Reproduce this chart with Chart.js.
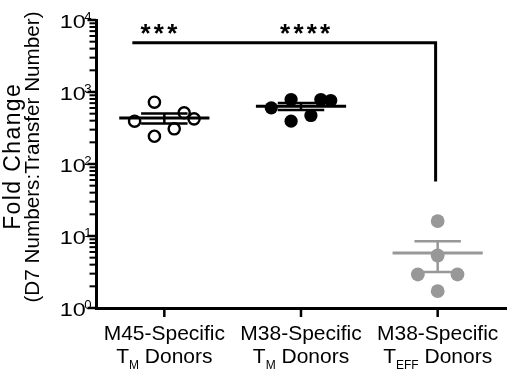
<!DOCTYPE html>
<html><head><meta charset="utf-8">
<script src="https://cdn.jsdelivr.net/npm/chart.js@4.4.0/dist/chart.umd.min.js"></script>
<style>html,body{margin:0;padding:0;background:#fff;}</style>
</head><body>
<canvas id="c" width="514" height="377" style="width:514px;height:377px;display:block"></canvas>
<script>
// ---- data ----
const categoryLine1 = ["M45-Specific", "M38-Specific", "M38-Specific"];
const categoryLine2Main = ["T", "T", "T"];
const categorySubscript = ["M", "M", "EFF"];
const categoryLine2Rest = [" Donors", " Donors", " Donors"];
const m45TmValues = [393, 722, 243, 308, 514, 424];
const m45TmJitter = [-3, -1, -1, 1, 2, 3];
const m38TmValues = [603, 787, 393, 472, 787, 762];
const m38TmJitter = [-3, -1, -1, 1, 2, 3];
const m38TeffValues = [16.1, 5.36, 2.92, 2.92, 1.71];
const m38TeffJitter = [0, 0, -2, 2, 0];
const yTickExponents = [0, 1, 2, 3, 4];
const yTitle = ["Fold Change", "(D7 Numbers:Transfer Number)"];
const sigLabels = ["***", "****"];
const sigLabelX = [-0.04, 1.03];
const sigLabelY = 8100;
const bracketX = [-0.234, 1.985, 1.985];
const bracketY = [4820, 4820, 57];

// ---- styles ----
const FONT = "'Liberation Sans', Arial, sans-serif";
const GRAY = "rgb(152,152,152)";
const JSTEP = 0.0725;

function stats(a) {
  const n = a.length, m = a.reduce((s, v) => s + v, 0) / n;
  const sd = Math.sqrt(a.reduce((s, v) => s + (v - m) * (v - m), 0) / (n - 1));
  return { mean: m, sem: sd / Math.sqrt(n) };
}
const groups = [
  { vals: m45TmValues, jit: m45TmJitter, color: "#000", fill: "rgba(0,0,0,0)", r: 5.6, bw: 2.4 },
  { vals: m38TmValues, jit: m38TmJitter, color: "#000", fill: "#000", r: 6.6, bw: 0 },
  { vals: m38TeffValues, jit: m38TeffJitter, color: GRAY, fill: GRAY, r: 6.9, bw: 0 }
];
const datasets = [];
groups.forEach((g, i) => {
  const st = stats(g.vals);
  const seg = (pts, w) => datasets.push({
    data: pts, showLine: true, pointRadius: 0, borderColor: g.color, borderWidth: w,
    borderCapStyle: 'butt', order: 0
  });
  seg([{ x: i - 0.33, y: st.mean }, { x: i + 0.33, y: st.mean }], 3);
  seg([{ x: i - 0.17, y: st.mean + st.sem }, { x: i + 0.17, y: st.mean + st.sem }], 2.5);
  seg([{ x: i - 0.17, y: st.mean - st.sem }, { x: i + 0.17, y: st.mean - st.sem }], 2.5);
  seg([{ x: i, y: st.mean - st.sem }, { x: i, y: st.mean + st.sem }], 2.5);
  datasets.push({
    data: g.vals.map((v, k) => ({ x: i + g.jit[k] * JSTEP, y: v })),
    pointRadius: g.r, pointBorderWidth: g.bw, pointBorderColor: g.color,
    pointBackgroundColor: g.fill, pointHoverRadius: g.r, order: 1
  });
});
datasets.push({
  data: bracketX.map((x, k) => ({ x: x, y: bracketY[k] })), showLine: true, pointRadius: 0,
  borderColor: "#000", borderWidth: 3, borderJoinStyle: 'miter', borderCapStyle: 'butt', order: 0
});

function scaledText(ctx, text, x, y, sx) {
  ctx.save(); ctx.translate(x, y); ctx.scale(sx, 1); ctx.fillText(text, 0, 0); ctx.restore();
}

const tickPlugin = {
  id: 'axisTicks',
  afterDraw(chart) {
    const ctx = chart.ctx, xs = chart.scales.x, ys = chart.scales.y, ca = chart.chartArea;
    ctx.save();
    ctx.fillStyle = "#000";
    for (const e of yTickExponents) {
      for (let m = 1; m <= 9; m++) {
        if (e === 4 && m > 1) break;
        const py = ys.getPixelForValue(m * Math.pow(10, e));
        const len = m === 1 ? 7 : 5;
        const th = m === 1 ? 2.5 : 2;
        ctx.fillRect(ca.left - 1.5 - len, py - th / 2, len + 1.5, th);
      }
    }
    for (let i = 0; i < categoryLine1.length; i++) {
      const px = xs.getPixelForValue(i);
      ctx.fillRect(px - 1.25, ca.bottom, 2.5, 9);
    }
    ctx.restore();
  }
};

const textPlugin = {
  id: 'texts',
  afterDraw(chart) {
    const ctx = chart.ctx, xs = chart.scales.x, ys = chart.scales.y;
    const left = chart.chartArea.left;
    ctx.save();
    ctx.fillStyle = "#000";
    ctx.textBaseline = 'alphabetic';
    yTickExponents.forEach(e => {
      const py = ys.getPixelForValue(Math.pow(10, e));
      ctx.font = "12px " + FONT;
      const sw = ctx.measureText(String(e)).width * 1.1;
      const sx = left - 4.5 - sw;
      ctx.textAlign = 'left';
      scaledText(ctx, String(e), sx, py + 0.8, 1.1);
      ctx.font = "18px " + FONT;
      const mw = ctx.measureText("10").width * 1.3;
      scaledText(ctx, "10", sx - mw + 1.5, py + 7.5, 1.3);
    });
    for (let i = 0; i < categoryLine1.length; i++) {
      const px = xs.getPixelForValue(i);
      ctx.font = "21px " + FONT; ctx.textAlign = 'center';
      ctx.fillText(categoryLine1[i], px, 340);
      ctx.textAlign = 'left';
      const w1 = ctx.measureText(categoryLine2Main[i]).width;
      const w3 = ctx.measureText(categoryLine2Rest[i]).width;
      ctx.font = "12px " + FONT;
      const w2 = ctx.measureText(categorySubscript[i]).width;
      const x0 = px - (w1 + w2 + w3) / 2;
      ctx.font = "21px " + FONT;
      ctx.fillText(categoryLine2Main[i], x0, 363);
      ctx.font = "12px " + FONT;
      ctx.fillText(categorySubscript[i], x0 + w1, 368.5);
      ctx.font = "21px " + FONT;
      ctx.fillText(categoryLine2Rest[i], x0 + w1 + w2, 363);
    }
    ctx.save();
    ctx.translate(0, 157); ctx.rotate(-Math.PI / 2);
    ctx.textAlign = 'center';
    ctx.font = "23px " + FONT;
    ctx.letterSpacing = "1.4px";
    ctx.fillText(yTitle[0], 0.7, 20);
    ctx.letterSpacing = "0px";
    ctx.font = "20.7px " + FONT;
    ctx.fillText(yTitle[1], 0, 39);
    ctx.restore();
    ctx.font = "bold 26px " + FONT;
    ctx.textAlign = 'left';
    ctx.letterSpacing = "3.2px";
    sigLabels.forEach((s, k) => {
      const px = xs.getPixelForValue(sigLabelX[k]);
      const py = ys.getPixelForValue(sigLabelY);
      const w = ctx.measureText(s).width - 3.2;
      ctx.fillText(s, px - w / 2, py + 15.4);
    });
    ctx.letterSpacing = "0px";
    ctx.restore();
  }
};

new Chart(document.getElementById('c'), {
  type: 'scatter',
  data: { datasets: datasets },
  options: {
    responsive: false, animation: false,
    layout: { padding: { left: 0, right: 3, top: 20, bottom: 0 } },
    plugins: { legend: { display: false }, tooltip: { enabled: false } },
    scales: {
      x: {
        type: 'linear', min: -0.5, max: 2.5,
        grid: { display: false }, ticks: { display: false },
        border: { display: true, width: 3, color: "#000" },
        afterFit: s => { s.height = 69; }
      },
      y: {
        type: 'logarithmic', min: 1, max: 10000,
        grid: { display: false }, ticks: { display: false },
        border: { display: true, width: 3, color: "#000" },
        afterFit: s => { s.width = 96; }
      }
    }
  },
  plugins: [tickPlugin, textPlugin]
});
</script>
</body></html>
